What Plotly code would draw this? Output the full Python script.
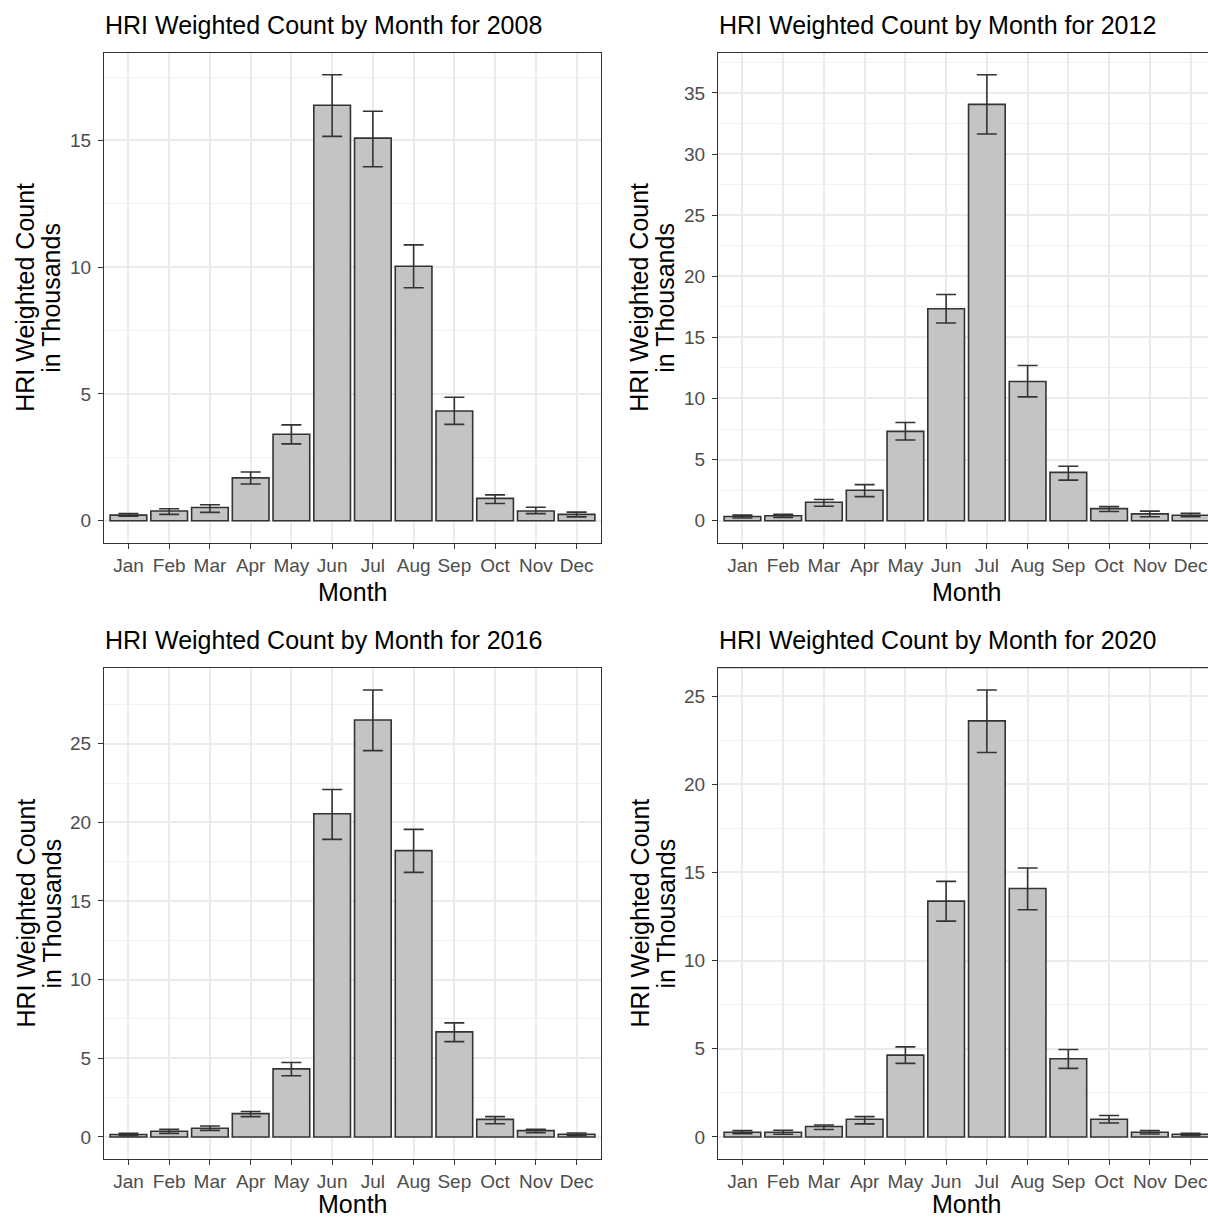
import plotly.graph_objects as go

months = ["Jan", "Feb", "Mar", "Apr", "May", "Jun", "Jul", "Aug", "Sep", "Oct", "Nov", "Dec"]
years = ["2008", "2012", "2016", "2020"]

# weighted counts (thousands) with lower / upper confidence bounds
mean_2008 = [0.22, 0.38, 0.52, 1.69, 3.41, 16.39, 15.09, 10.04, 4.33, 0.88, 0.38, 0.25]
low_2008 = [0.18, 0.25, 0.33, 1.45, 3.03, 15.16, 13.96, 9.19, 3.80, 0.68, 0.28, 0.15]
up_2008 = [0.28, 0.47, 0.63, 1.92, 3.78, 17.59, 16.15, 10.88, 4.87, 1.02, 0.53, 0.34]

mean_2012 = [0.35, 0.41, 1.51, 2.49, 7.31, 17.34, 34.06, 11.39, 3.95, 0.99, 0.56, 0.45]
low_2012 = [0.22, 0.27, 1.18, 1.97, 6.60, 16.17, 31.64, 10.13, 3.32, 0.75, 0.32, 0.33]
up_2012 = [0.46, 0.52, 1.73, 2.95, 8.04, 18.51, 36.48, 12.70, 4.46, 1.15, 0.78, 0.60]

mean_2016 = [0.16, 0.36, 0.55, 1.48, 4.33, 20.55, 26.51, 18.20, 6.68, 1.12, 0.40, 0.17]
low_2016 = [0.08, 0.23, 0.42, 1.29, 3.89, 18.92, 24.56, 16.82, 6.06, 0.84, 0.27, 0.08]
up_2016 = [0.24, 0.48, 0.70, 1.62, 4.73, 22.09, 28.41, 19.55, 7.25, 1.29, 0.48, 0.25]

mean_2020 = [0.27, 0.27, 0.59, 1.00, 4.64, 13.37, 23.59, 14.09, 4.43, 1.00, 0.27, 0.15]
low_2020 = [0.18, 0.15, 0.42, 0.74, 4.17, 12.24, 21.80, 12.88, 3.89, 0.79, 0.17, 0.09]
up_2020 = [0.36, 0.38, 0.68, 1.15, 5.11, 14.49, 25.34, 15.25, 4.96, 1.22, 0.36, 0.21]

series = {
    "2008": (mean_2008, low_2008, up_2008),
    "2012": (mean_2012, low_2012, up_2012),
    "2016": (mean_2016, low_2016, up_2016),
    "2020": (mean_2020, low_2020, up_2020),
}

W, H = 1208, 1218
TXT = "#4D4D4D"
GRID = "#EBEBEB"
FRAME = "#333333"
FONT = "Liberation Sans, Arial, sans-serif"
TICK_SIZE = 19
TITLE_SIZE = 25

# panel boxes in pixels: (left, right, top, bottom)
boxes = [
    (104, 601, 52.5, 543),
    (718, 1215, 52.5, 543),
    (104, 601, 667.7, 1159.3),
    (718, 1215, 667.7, 1159.3),
]

fig = go.Figure()
annotations = []
for i, yr in enumerate(years):
    m, lo, up = series[yr]
    n = i + 1
    xa = "x" if n == 1 else f"x{n}"
    ya = "y" if n == 1 else f"y{n}"
    fig.add_trace(go.Bar(
        x=months, y=m, xaxis=xa, yaxis=ya,
        marker=dict(color="#C4C4C4", line=dict(color=FRAME, width=1.6)),
        error_y=dict(type="data", symmetric=False,
                     array=[u - v for u, v in zip(up, m)],
                     arrayminus=[v - l for v, l in zip(m, lo)],
                     color=FRAME, thickness=1.6, width=10),
        showlegend=False, hoverinfo="x+y",
    ))
    L, R, T, B = boxes[i]
    ymax = max(up)
    pad = 0.05 * ymax
    clip_r = min(R, W)
    full_units = 12.2
    xr_hi = -0.6 + full_units * (clip_r - L) / (R - L)
    xd = [L / W, clip_r / W]
    yd = [1 - B / H, 1 - T / H]
    key_x = "xaxis" if n == 1 else f"xaxis{n}"
    key_y = "yaxis" if n == 1 else f"yaxis{n}"
    fig.update_layout(**{
        key_x: dict(domain=xd, anchor=ya, type="category", categoryorder="array",
                    categoryarray=months, range=[-0.6, xr_hi],
                    showgrid=True, gridcolor=GRID, gridwidth=1.6,
                    showline=True, linecolor=FRAME, linewidth=1, mirror=True,
                    ticks="outside", ticklen=5, tickcolor=FRAME, tickwidth=1,
                    tickfont=dict(family=FONT, size=TICK_SIZE, color=TXT), zeroline=False),
        key_y: dict(domain=yd, anchor=xa, range=[-pad, ymax + pad],
                    tick0=0, dtick=5, showgrid=True, gridcolor=GRID, gridwidth=1.6,
                    minor=dict(dtick=2.5, tick0=0, showgrid=True, gridcolor="#F2F2F2", gridwidth=0.9),
                    showline=True, linecolor=FRAME, linewidth=1, mirror=(R <= W),
                    ticks="outside", ticklen=5, tickcolor=FRAME, tickwidth=1,
                    ticklabelstandoff=3,
                    tickfont=dict(family=FONT, size=TICK_SIZE, color=TXT), zeroline=False),
    })
    if R > W:
        # top border only (right side is outside the image)
        fig.add_shape(type="line", xref="paper", yref="paper",
                      x0=L / W, x1=1, y0=1 - T / H, y1=1 - T / H,
                      line=dict(color=FRAME, width=1))
    annotations.append(dict(text=f"HRI Weighted Count by Month for {yr}",
                            xref="paper", yref="paper", x=(L - 1) / W, y=1 - (T - 27.5) / H,
                            xanchor="left", yanchor="middle", showarrow=False,
                            font=dict(family=FONT, size=TITLE_SIZE, color="black")))
    month_y = min(B + 49, H - 14.5)
    annotations.append(dict(text="Month", xref="paper", yref="paper",
                            x=((L + R) / 2) / W, y=1 - month_y / H,
                            xanchor="center", yanchor="middle", showarrow=False,
                            font=dict(family=FONT, size=TITLE_SIZE, color="black")))
    for dx, line in ((-79, "HRI Weighted Count"), (-53, "in Thousands")):
        annotations.append(dict(text=line, xref="paper", yref="paper",
                                x=(L + dx) / W, y=1 - ((T + B) / 2) / H, textangle=-90,
                                xanchor="center", yanchor="middle", showarrow=False,
                                font=dict(family=FONT, size=TITLE_SIZE, color="black")))

fig.update_layout(width=W, height=H, margin=dict(l=0, r=0, t=0, b=0),
                  paper_bgcolor="white", plot_bgcolor="white", bargap=0.1,
                  annotations=annotations, font=dict(family=FONT))

fig.write_html("out.html", config={"displayModeBar": False},
               post_script="document.body.style.margin='0';document.body.style.overflow='hidden';")
